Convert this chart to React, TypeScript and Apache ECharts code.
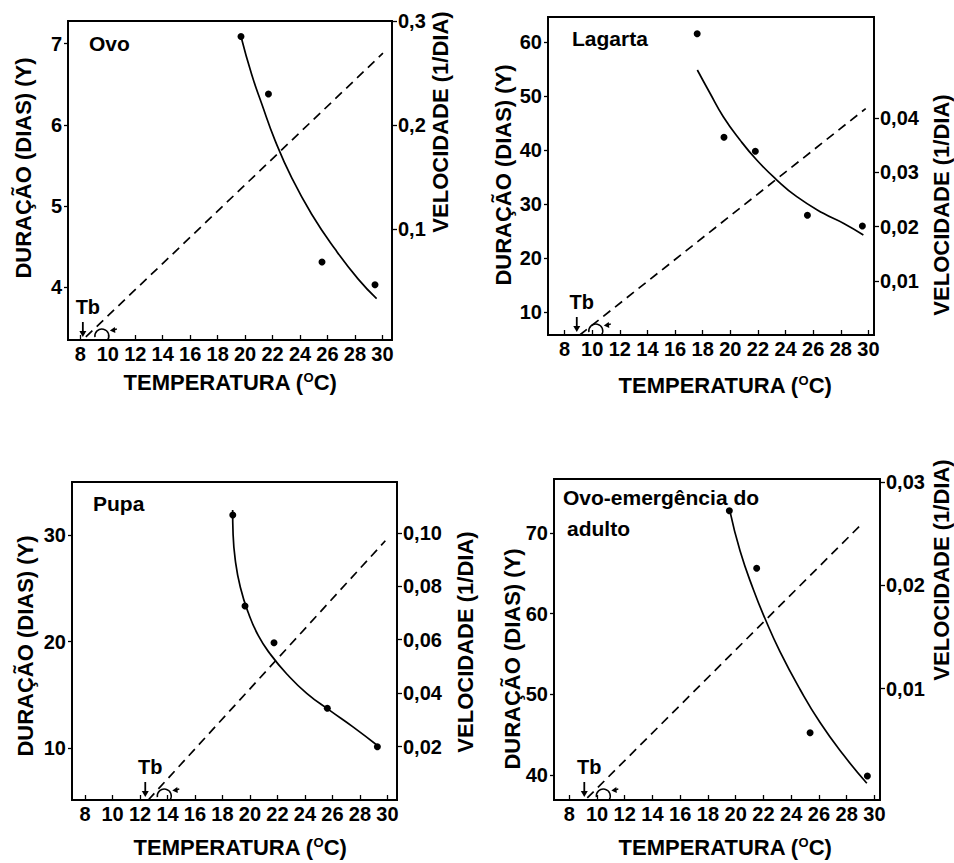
import React, { useEffect, useRef } from "react";
import * as echarts from "echarts";

// ---------- data ----------
const xTicks = [8, 10, 12, 14, 16, 18, 20, 22, 24, 26, 28, 30];

// Ovo
const ovoPoints = [[19.7, 7.09], [21.7, 6.38], [25.6, 4.31], [29.46, 4.03]];
const ovoCurve = [[19.7, 7.09], [20.48, 6.62], [21.21, 6.26], [22.18, 5.81], [23.39, 5.35], [24.85, 4.9], [26.55, 4.47], [28.24, 4.1], [29.58, 3.86]];
const ovoVelocity = [[8.4, -0.004], [30.04, 0.269]];
const ovoDurTicks = [4, 5, 6, 7];
const ovoVelTicks = [0.1, 0.2, 0.3];

// Lagarta
const lagPoints = [[17.6, 61.5], [19.54, 42.32], [21.81, 39.72], [25.58, 27.87], [29.56, 25.89]];
const lagCurve = [[17.61, 54.78], [18.53, 50.47], [19.49, 46.13], [20.7, 41.82], [21.91, 38.11], [23.31, 34.54], [24.81, 31.32], [26.73, 28.24], [28.18, 26.39], [29.63, 24.22]];
const lagVelocity = [[9.1, 0], [29.8, 0.0418]];
const lagDurTicks = [10, 20, 30, 40, 50, 60];
const lagVelTicks = [0.01, 0.02, 0.03, 0.04];

// Pupa
const pupPoints = [[18.75, 31.9], [19.64, 23.34], [21.75, 19.89], [25.63, 13.72], [29.27, 10.11]];
const pupCurve = [[18.74, 32.37], [18.77, 30.18], [18.93, 27.67], [19.3, 25.1], [19.88, 22.7], [20.61, 20.55], [21.46, 18.85], [22.68, 16.95], [24.13, 15.13], [25.83, 13.5], [27.52, 11.95], [29.23, 10.27]];
const pupVelocity = [[12.6, 0], [29.85, 0.097]];
const pupDurTicks = [10, 20, 30];
const pupVelTicks = [0.02, 0.04, 0.06, 0.08, 0.1];

// Ovo-emergência do adulto
const adPoints = [[19.54, 72.77], [21.51, 65.63], [25.36, 45.24], [29.49, 39.87]];
const adCurve = [[19.59, 72.65], [20.31, 67.8], [21.27, 63.0], [22.11, 59.4], [23.19, 55.3], [24.64, 50.6], [26.08, 46.5], [27.76, 42.5], [29.45, 38.97]];
const adVelocity = [[9.3, -0.0006], [28.98, 0.0258]];
const adDurTicks = [40, 50, 60, 70];
const adVelTicks = [0.01, 0.02, 0.03];

const leftName = "DURAÇÃO (DIAS) (Y)";
const rightName = "VELOCIDADE (1/DIA)";
const tbLabel = "Tb";

// ---------- layout ----------
const FONT = '"Liberation Sans", Arial, Helvetica, sans-serif';

const panels = [
  {
    title: ["Ovo"], points: ovoPoints, curve: ovoCurve, vel: ovoVelocity,
    yTicks: ovoDurTicks, vTicks: ovoVelTicks, vDigits: 1,
    grid: { left: 68, top: 21, width: 324, height: 319 },
    xMin: 7.1, xMax: 30.7, yMin: 3.35, yMax: 7.28, vMin: -0.007, vMax: 0.3,
    titlePos: [89, 43], leftPos: [23, 168], rightPos: [440, 122], xPos: [230, 382],
  },
  {
    title: ["Lagarta"], points: lagPoints, curve: lagCurve, vel: lagVelocity,
    yTicks: lagDurTicks, vTicks: lagVelTicks, vDigits: 2,
    grid: { left: 548, top: 17, width: 326, height: 318 },
    xMin: 6.8, xMax: 30.4, yMin: 5.7, yMax: 64.6, vMin: 0, vMax: 0.0587,
    titlePos: [572, 38], leftPos: [503, 175], rightPos: [941, 205], xPos: [725, 385],
  },
  {
    title: ["Pupa"], points: pupPoints, curve: pupCurve, vel: pupVelocity,
    yTicks: pupDurTicks, vTicks: pupVelTicks, vDigits: 2,
    grid: { left: 72, top: 482, width: 325, height: 318 },
    xMin: 7.05, xMax: 30.7, yMin: 5.1, yMax: 35.0, vMin: 0, vMax: 0.119,
    titlePos: [93, 503], leftPos: [25, 646], rightPos: [465, 642], xPos: [240, 847],
  },
  {
    title: ["Ovo-emergência do", "adulto"], points: adPoints, curve: adCurve, vel: adVelocity,
    yTicks: adDurTicks, vTicks: adVelTicks, vDigits: 2,
    grid: { left: 554, top: 479, width: 326, height: 321 },
    xMin: 6.9, xMax: 30.4, yMin: 36.9, yMax: 76.7, vMin: -0.0008, vMax: 0.0303,
    titlePos: [563, 497], leftPos: [512, 659], rightPos: [941, 570], xPos: [725, 847],
  },
];

const labelStyle = { color: "#000", fontSize: 20, fontWeight: "bold" as const, fontFamily: FONT };
const axisLine = { show: true, onZero: false, lineStyle: { color: "#000", width: 1.8 } };

function buildOption() {
  const grid: any[] = [];
  const xAxis: any[] = [];
  const yAxis: any[] = [];
  const series: any[] = [];
  panels.forEach((p, i) => {
    grid.push({ ...p.grid, show: true, borderColor: "#000", borderWidth: 1.8, backgroundColor: "transparent" });
    xAxis.push({
      type: "value", gridIndex: i, min: p.xMin, max: p.xMax, position: "bottom",
      axisLine,
      axisTick: { show: true, inside: true, length: 5, customValues: xTicks, lineStyle: { color: "#000", width: 1.3 } },
      axisLabel: { ...labelStyle, margin: 4, customValues: xTicks, formatter: (v: number) => String(Math.round(v)) },
      splitLine: { show: false },
    });
    yAxis.push({
      type: "value", gridIndex: i, min: p.yMin, max: p.yMax, position: "left",
      axisLine,
      axisTick: { show: true, inside: false, length: 4, customValues: p.yTicks, lineStyle: { color: "#000", width: 1.3 } },
      axisLabel: { ...labelStyle, margin: 6, customValues: p.yTicks, formatter: (v: number) => String(Math.round(v)) },
      splitLine: { show: false },
    });
    yAxis.push({
      type: "value", gridIndex: i, min: p.vMin, max: p.vMax, position: "right",
      axisLine,
      axisTick: { show: true, inside: false, length: 5, customValues: p.vTicks, lineStyle: { color: "#000", width: 1.3 } },
      axisLabel: {
        ...labelStyle, margin: 6, customValues: p.vTicks,
        formatter: (v: number) => v.toFixed(p.vDigits).replace(".", ","),
      },
      splitLine: { show: false },
    });
    series.push({
      type: "scatter", xAxisIndex: i, yAxisIndex: 2 * i, data: p.points,
      symbolSize: 7, itemStyle: { color: "#000", opacity: 1 }, silent: true, z: 5,
    });
    series.push({
      type: "line", xAxisIndex: i, yAxisIndex: 2 * i, data: p.curve, smooth: 0.5,
      symbol: "none", lineStyle: { color: "#000", width: 1.7 }, silent: true,
    });
    series.push({
      type: "line", xAxisIndex: i, yAxisIndex: 2 * i + 1, data: p.vel,
      symbol: "none", lineStyle: { color: "#000", width: 1.7, type: [9, 6] }, silent: true,
    });
  });
  return {
    animation: false,
    backgroundColor: "#fff",
    grid, xAxis, yAxis, series,
  };
}

function textEl(x: number, y: number, text: string, opts: any = {}) {
  return {
    type: "text", x, y, rotation: opts.rotation || 0, z: 10,
    style: {
      text, fill: "#000", fontSize: opts.fontSize || 21, fontWeight: "bold", fontFamily: FONT,
      align: opts.align || "center", verticalAlign: "middle", rich: opts.rich,
    },
  };
}

function buildGraphics(chart: any) {
  const g: any[] = [];
  panels.forEach((p, i) => {
    p.title.forEach((t, k) => {
      g.push(textEl(p.titlePos[0] + (k > 0 ? 4 : 0), p.titlePos[1] + k * 31, t, { align: "left", fontSize: 21 }));
    });
    g.push(textEl(p.leftPos[0], p.leftPos[1], leftName, { rotation: Math.PI / 2, fontSize: 22 }));
    g.push(textEl(p.rightPos[0], p.rightPos[1], rightName, { rotation: Math.PI / 2, fontSize: 22 }));
    g.push(textEl(p.xPos[0], p.xPos[1], "TEMPERATURA ({s|O}C)", {
      fontSize: 22,
      rich: { s: { fontSize: 13, fontWeight: "bold", fontFamily: FONT, verticalAlign: "top", fill: "#000" } },
    }));
    // Tb annotation (anchored on the start of the velocity line)
    const o = chart.convertToPixel({ seriesIndex: 3 * i + 2 }, p.vel[0]);
    if (!o) return;
    const ox = o[0];
    const oy = p.grid.top + p.grid.height;
    g.push(textEl(ox + 2, oy - 33, tbLabel, { fontSize: 20 }));
    g.push({ type: "line", z: 10, shape: { x1: ox - 3, y1: oy - 18, x2: ox - 3, y2: oy - 8 }, style: { stroke: "#000", lineWidth: 1.8 } });
    g.push({ type: "polygon", z: 10, shape: { points: [[ox - 6.5, oy - 9], [ox + 0.5, oy - 9], [ox - 3, oy - 3]] }, style: { fill: "#000" } });
    g.push({
      type: "arc", z: 10,
      shape: { cx: ox + 16, cy: oy - 4, r: 7, startAngle: Math.PI * 0.95, endAngle: Math.PI * 2.2, clockwise: true },
      style: { stroke: "#000", lineWidth: 1.5, fill: "none" },
    });
    g.push({ type: "line", z: 10, shape: { x1: ox + 31, y1: oy - 11, x2: ox + 27, y2: oy - 10 }, style: { stroke: "#000", lineWidth: 1.4 } });
    g.push({ type: "polygon", z: 10, shape: { points: [[ox + 24, oy - 9.5], [ox + 29, oy - 13], [ox + 29.5, oy - 7]] }, style: { fill: "#000" } });
  });
  return g;
}

export default function App() {
  const ref = useRef<HTMLDivElement>(null);
  useEffect(() => {
    if (!ref.current) return;
    document.body.style.margin = "0";
    const chart = echarts.init(ref.current, null, { renderer: "svg" });
    chart.setOption(buildOption());
    chart.setOption({ graphic: buildGraphics(chart) });
    return () => chart.dispose();
  }, []);
  return <div ref={ref} style={{ width: 954, height: 863, position: "absolute", left: 0, top: 0 }} />;
}
